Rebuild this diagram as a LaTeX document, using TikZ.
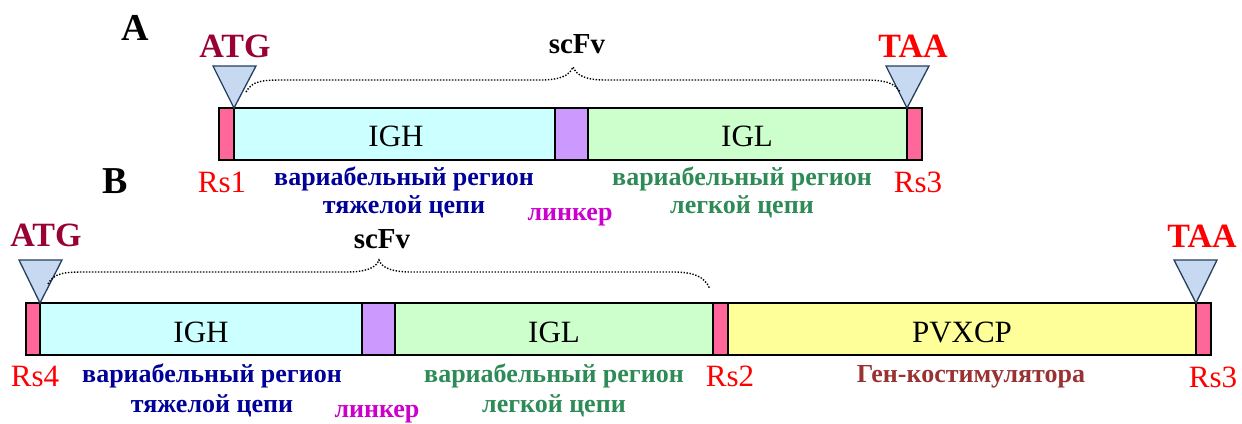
\documentclass[tikz,border=0pt]{standalone}
\usepackage{fontspec}
\setmainfont{Liberation Serif}
\definecolor{pinkc}{HTML}{FF6699}
\definecolor{cyanc}{HTML}{CCFFFF}
\definecolor{linkc}{HTML}{CC99FF}
\definecolor{greenc}{HTML}{CCFFCC}
\definecolor{yellowc}{HTML}{FFFF99}
\definecolor{trifill}{HTML}{C6D9F1}
\definecolor{triedge}{HTML}{243F60}
\definecolor{atgc}{HTML}{990033}
\definecolor{redc}{HTML}{FF0000}
\definecolor{bluec}{HTML}{000099}
\definecolor{greent}{HTML}{2E8B57}
\definecolor{magc}{HTML}{CC00CC}
\definecolor{brownc}{HTML}{993333}
\begin{document}
\begin{tikzpicture}[x=1pt,y=-1pt,
  seg/.style={draw=black, line width=1.8pt},
  tri/.style={draw=triedge, fill=trifill, line width=1.3pt, line join=miter},
  bracel/.style={draw=black, line width=1.4pt, dash pattern=on 1.4pt off 1.6pt},
  inlbl/.style={anchor=base, inner sep=0pt, font=\fontsize{31}{31}\selectfont},
  rslbl/.style={anchor=base, inner sep=0pt, text=redc, font=\fontsize{31}{31}\selectfont},
  codon/.style={anchor=base, inner sep=0pt, font=\bfseries\fontsize{34}{34}\selectfont},
  panel/.style={anchor=base, inner sep=0pt, font=\bfseries\fontsize{38}{38}\selectfont},
  scf/.style={anchor=base, inner sep=0pt, font=\bfseries\fontsize{29}{29}\selectfont},
  desc/.style={anchor=base, inner sep=0pt, font=\bfseries\fontsize{26}{26}\selectfont}]
\useasboundingbox (0,0) rectangle (1242,423);
% ---------- Row A ----------
\node[panel] (pA) at (135,40) {A};
\filldraw[seg, fill=pinkc] (219,108) rectangle (234,160);
\filldraw[seg, fill=cyanc] (234,108) rectangle (555,160);
\filldraw[seg, fill=linkc] (555,108) rectangle (588,160);
\filldraw[seg, fill=greenc] (588,108) rectangle (907,160);
\filldraw[seg, fill=pinkc] (907,108) rectangle (922,160);
\node[inlbl] (igha) at (396,146) {IGH};
\node[inlbl] (igla) at (747,146) {IGL};
\filldraw[tri] (213,66) -- (256,66) -- (234,108) -- cycle;
\filldraw[tri] (886,66) -- (929,66) -- (907,108) -- cycle;
\node[codon, text=atgc] (atga) at (235,57) {ATG};
\node[codon, text=redc] (taaa) at (913,57) {TAA};
\node[scf] (scfa) at (577,53) {scFv};
\coordinate (bAl) at (246,92);
\coordinate (bAr) at (900,92);
\draw[bracel] (bAl) .. controls (252,81) and (262,80) .. (282,80) -- (540,80)
  .. controls (560,80) and (569,76) .. (573,67)
  .. controls (577,76) and (586,80) .. (606,80) -- (862,80)
  .. controls (884,80) and (894,82) .. (bAr);
\node[rslbl] (rs1) at (222,192) {Rs1};
\node[rslbl] (rs3a) at (918,192) {Rs3};
\node[desc, text=bluec] (dhA1) at (404,185) {вариабельный регион};
\node[desc, text=bluec] (dhA2) at (404,213) {тяжелой цепи};
\node[desc, text=magc] (lnA) at (570,220) {линкер};
\node[desc, text=greent] (dlA1) at (742,185) {вариабельный регион};
\node[desc, text=greent] (dlA2) at (742,213) {легкой цепи};
% ---------- Row B ----------
\node[panel] (pB) at (115,193) {B};
\filldraw[seg, fill=pinkc] (26,303) rectangle (40,355);
\filldraw[seg, fill=cyanc] (40,303) rectangle (362,355);
\filldraw[seg, fill=linkc] (362,303) rectangle (395,355);
\filldraw[seg, fill=greenc] (395,303) rectangle (713,355);
\filldraw[seg, fill=pinkc] (713,303) rectangle (728,355);
\filldraw[seg, fill=yellowc] (728,303) rectangle (1196,355);
\filldraw[seg, fill=pinkc] (1196,303) rectangle (1211,355);
\node[inlbl] (ighb) at (201,342) {IGH};
\node[inlbl] (iglb) at (554,342) {IGL};
\node[inlbl] (pvx) at (962,342) {PVXCP};
\filldraw[tri] (19,260) -- (62,260) -- (40,303) -- cycle;
\filldraw[tri] (1174,260) -- (1217,260) -- (1196,303) -- cycle;
\node[codon, text=atgc] (atgb) at (46,246) {ATG};
\node[codon, text=redc] (taab) at (1202,247) {TAA};
\node[scf] (scfb) at (382,248) {scFv};
\coordinate (bBl) at (48,284);
\coordinate (bBr) at (710,289);
\draw[bracel] (bBl) .. controls (54,273) and (64,272) .. (84,272) -- (346,272)
  .. controls (366,272) and (376,268) .. (379,260)
  .. controls (382,268) and (392,272) .. (412,272) -- (672,272)
  .. controls (694,272) and (704,276) .. (bBr);
\node[rslbl] (rs4) at (35,386) {Rs4};
\node[rslbl] (rs2) at (730,386) {Rs2};
\node[rslbl] (rs3b) at (1213,387) {Rs3};
\node[desc, text=bluec] (dhB1) at (212,382) {вариабельный регион};
\node[desc, text=bluec] (dhB2) at (212,412) {тяжелой цепи};
\node[desc, text=magc] (lnB) at (377,417) {линкер};
\node[desc, text=greent] (dlB1) at (554,382) {вариабельный регион};
\node[desc, text=greent] (dlB2) at (554,412) {легкой цепи};
\node[desc, text=brownc] (cost) at (971,382) {Ген-костимулятора};
\end{tikzpicture}
\end{document}
